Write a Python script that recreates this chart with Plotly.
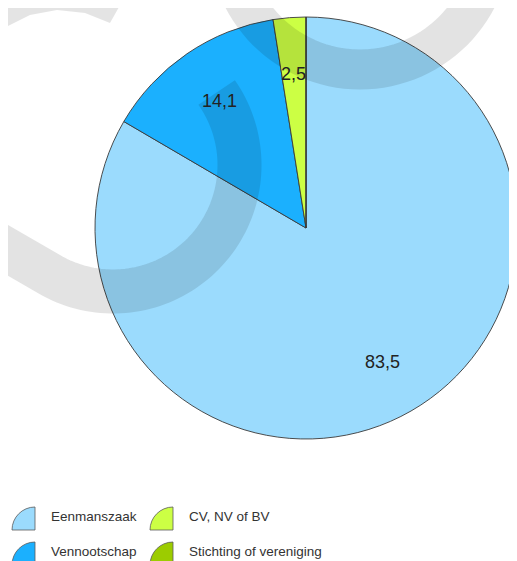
import math
import plotly.graph_objects as go

categories = ["Eenmanszaak", "Vennootschap", "CV, NV of BV", "Stichting of vereniging"]
values = [83.5, 14.1, 2.5, 0.0]
labels_text = ["83,5", "14,1", "2,5", ""]
colors = ["#9BDBFD", "#1BB0FE", "#CCFF44", "#9CCC00"]

# page body has an 8px margin, so the figure is 8px smaller than the window
OFF = 8
W, H = 517 - OFF, 561 - OFF
FONT = "Liberation Sans, Arial, sans-serif"


def px(x, y):
    """reference-pixel position -> paper coordinates"""
    return (x - OFF) / W, 1 - (y - OFF) / H


# pie domain (pixels in reference picture)
dom_left = 95
dom_top, dom_bottom = 16, 440
x0p, _ = px(dom_left, 0)
_, y1p = px(0, dom_top)
_, y0p = px(0, dom_bottom)

fig = go.Figure(go.Pie(
    labels=categories,
    values=values,
    textinfo="none",
    sort=False,
    direction="clockwise",
    rotation=0,
    marker=dict(colors=colors, line=dict(color="#3a3a3a", width=0.9)),
    domain=dict(x=[x0p, 1.0], y=[y0p, y1p]),
    showlegend=False,
    hoverinfo="label+percent",
))

# value labels placed along each slice's mid-angle
rad_px = min((1.0 - x0p) * W, (y1p - y0p) * H) / 2
cxp = (x0p + 1.0) / 2
cyp = (y0p + y1p) / 2
total = sum(values)
annotations = []
cum = 0.0
for v, t in zip(values, labels_text):
    mid = (cum + v / 2) / total * 2 * math.pi
    cum += v
    if not t:
        continue
    d = 0.73 * rad_px
    annotations.append(dict(
        text=t, xref="paper", yref="paper",
        x=cxp + d * math.sin(mid) / W, y=cyp + d * math.cos(mid) / H,
        showarrow=False, xanchor="center", yanchor="middle",
        font=dict(family=FONT, size=18, color="#222222")))

shapes = []


# watermark (light grey logo bands, drawn translucent over the chart)
def arc_pts(cx, cy, r, a0, a1, n=90):
    pts = []
    for i in range(n + 1):
        a = math.radians(a0 + (a1 - a0) * i / n)
        pts.append((cx + r * math.cos(a), cy + r * math.sin(a)))
    return pts


def poly(pts):
    pp = [px(*p) for p in pts]
    return "M " + " L ".join(f"{p[0]:.5f},{p[1]:.5f}" for p in pp)


wm = dict(type="path", xref="paper", yref="paper", layer="above",
          fillcolor="rgba(0,0,0,0)", opacity=0.105)
shapes.append(dict(wm, path=poly(arc_pts(360, -62, 131.5, 0, 360, 120)),
                   line=dict(color="black", width=40)))
band = arc_pts(113, 165, 126.5, -35, 120, 80)
band.append((-40, 222.6))
shapes.append(dict(wm, path=poly(band), line=dict(color="black", width=44)))
tl = [(-20, -20), (125, -20), (123, 0), (110, 23), (85, 13), (57, 10), (30, 15), (0, 30), (-20, 40)]
shapes.append(dict(type="path", xref="paper", yref="paper", layer="above",
                   path=poly(tl) + " Z",
                   fillcolor="black", opacity=0.105, line=dict(width=0)))

# custom legend with quarter-circle icons
legend_pos = [(12, 530), (12, 565), (150, 530), (150, 565)]
k = 0.5523
r = 23
for (lx, ly), name, col in zip(legend_pos, categories, colors):
    cx, cy = lx + r, ly
    p0 = px(lx, ly)
    c1 = px(lx, ly - r * k)
    c2 = px(cx - r * k, ly - r)
    p1 = px(cx, ly - r)
    pc = px(cx, cy)
    path = (f"M {p0[0]},{p0[1]} C {c1[0]},{c1[1]} {c2[0]},{c2[1]} {p1[0]},{p1[1]} "
            f"L {pc[0]},{pc[1]} Z")
    shapes.append(dict(type="path", xref="paper", yref="paper", path=path,
                       fillcolor=col, line=dict(color="#5a5a5a", width=0.8)))
    tx, ty = px(lx + 37, ly - 14)
    annotations.append(dict(text=name, x=tx, y=ty, xref="paper", yref="paper",
                            xanchor="left", yanchor="middle", showarrow=False,
                            font=dict(family=FONT, size=13.5, color="#333333")))

fig.update_layout(
    width=W, height=H,
    margin=dict(l=0, r=0, t=0, b=0),
    paper_bgcolor="white",
    plot_bgcolor="white",
    shapes=shapes,
    annotations=annotations,
)

fig.write_html("out.html")
